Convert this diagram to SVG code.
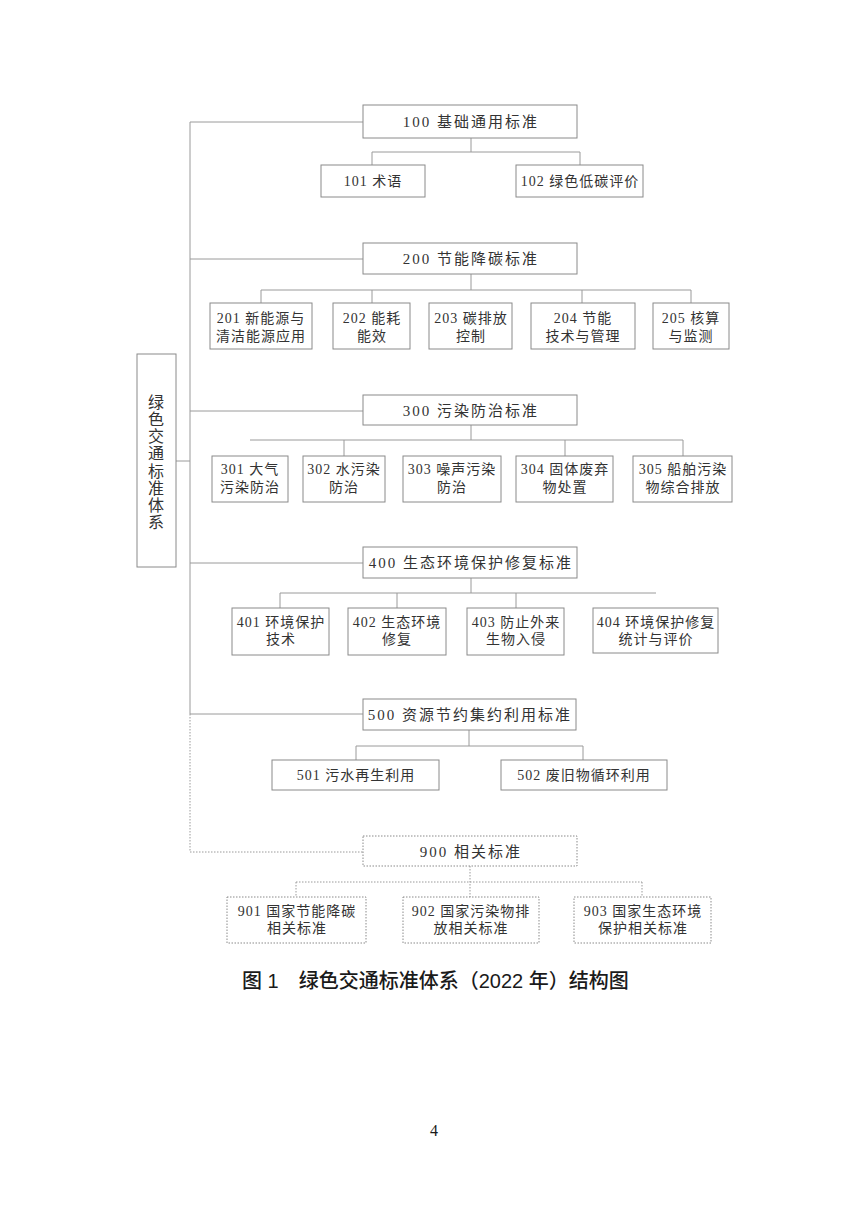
<svg xmlns="http://www.w3.org/2000/svg" width="868" height="1227" viewBox="0 0 868 1227">
<style>
.bg{fill:#ffffff}
.box{fill:#ffffff;stroke:#8a8a8a;stroke-width:1}
.dbox{fill:#ffffff;stroke:#8a8a8a;stroke-width:1;stroke-dasharray:1.5 1.5}
.ln{fill:none;stroke:#9a9a9a;stroke-width:1}
.dl{fill:none;stroke:#9a9a9a;stroke-width:1;stroke-dasharray:1.5 1.5}
.h{font-family:"Liberation Serif","Noto Sans CJK SC",serif;font-size:15px;letter-spacing:2px;fill:#333333;text-anchor:middle}
.c{font-family:"Liberation Serif","Noto Sans CJK SC",serif;font-size:14px;letter-spacing:1px;fill:#333333;text-anchor:middle}
.v{font-family:"Liberation Serif","Noto Sans CJK SC",serif;font-size:16px;fill:#333333;text-anchor:middle}
.cap{font-family:"Liberation Sans","Noto Sans CJK SC",sans-serif;font-size:20px;font-weight:500;fill:#1a1a1a}
.pg{font-family:"Liberation Serif",serif;font-size:16px;fill:#1a1a1a;text-anchor:middle}
</style>
<rect class="bg" x="0" y="0" width="868" height="1227"/>

<g id="connectors">
  <path class="ln" d="M190 122V714"/>
  <path class="dl" d="M190 714V852"/>
  <path class="ln" d="M176 461H190"/>
  <path class="ln" d="M190 122H363M190 259H363M190 411H363M190 563H363M190 714H363"/>
  <path class="dl" d="M190 852H363"/>
  <path class="ln" d="M471 138V152M372 152H580M372 152V165M580 152V165"/>
  <path class="ln" d="M471 274V290M261 290H691M261 290V303M372 290V303M582 290V303M691 290V303"/>
  <path class="ln" d="M471 425V440M250 440H683M344 440V456M565 440V456M683 440V456"/>
  <path class="ln" d="M471 578V593M280 593H656M280 593V608M397 593V608M516 593V608"/>
  <path class="ln" d="M469 730V746M356 746H583M356 746V760M583 746V760"/>
  <path class="dl" d="M470 866V897M296 882H642M296 882V897M642 882V897"/>
</g>

<g id="root">
  <rect class="box" x="137" y="354" width="39" height="213"/>
  <text class="v" x="156"><tspan x="156" y="408">绿</tspan><tspan x="156" y="425">色</tspan><tspan x="156" y="442">交</tspan><tspan x="156" y="459">通</tspan><tspan x="156" y="477">标</tspan><tspan x="156" y="494">准</tspan><tspan x="156" y="511">体</tspan><tspan x="156" y="528">系</tspan></text>
</g>

<g id="n100"><rect class="box" x="363" y="105" width="214" height="33"/><text class="h" x="471" y="127">100 基础通用标准</text></g>
<g id="n101"><rect class="box" x="321" y="165" width="104" height="32"/><text class="c" x="373" y="186">101 术语</text></g>
<g id="n102"><rect class="box" x="516" y="165" width="127" height="32"/><text class="c" x="580" y="186">102 绿色低碳评价</text></g>

<g id="n200"><rect class="box" x="363" y="243" width="214" height="31"/><text class="h" x="471" y="264">200 节能降碳标准</text></g>
<g id="n201"><rect class="box" x="210" y="303" width="102" height="46"/><text class="c" x="261" y="323">201 新能源与</text><text class="c" x="261" y="341">清洁能源应用</text></g>
<g id="n202"><rect class="box" x="333" y="303" width="77" height="46"/><text class="c" x="372" y="323">202 能耗</text><text class="c" x="372" y="341">能效</text></g>
<g id="n203"><rect class="box" x="429" y="303" width="83" height="46"/><text class="c" x="471" y="323">203 碳排放</text><text class="c" x="471" y="341">控制</text></g>
<g id="n204"><rect class="box" x="531" y="303" width="104" height="46"/><text class="c" x="583" y="323">204 节能</text><text class="c" x="583" y="341">技术与管理</text></g>
<g id="n205"><rect class="box" x="653" y="303" width="76" height="46"/><text class="c" x="691" y="323">205 核算</text><text class="c" x="691" y="341">与监测</text></g>

<g id="n300"><rect class="box" x="363" y="395" width="214" height="30"/><text class="h" x="471" y="415.5">300 污染防治标准</text></g>
<g id="n301"><rect class="box" x="212" y="456" width="76" height="46"/><text class="c" x="250" y="474">301 大气</text><text class="c" x="250" y="492">污染防治</text></g>
<g id="n302"><rect class="box" x="303" y="456" width="82" height="46"/><text class="c" x="344" y="474">302 水污染</text><text class="c" x="344" y="492">防治</text></g>
<g id="n303"><rect class="box" x="403" y="456" width="98" height="46"/><text class="c" x="452" y="474">303 噪声污染</text><text class="c" x="452" y="492">防治</text></g>
<g id="n304"><rect class="box" x="516" y="456" width="97" height="46"/><text class="c" x="565" y="474">304 固体废弃</text><text class="c" x="565" y="492">物处置</text></g>
<g id="n305"><rect class="box" x="633" y="456" width="99" height="46"/><text class="c" x="683" y="474">305 船舶污染</text><text class="c" x="683" y="492">物综合排放</text></g>

<g id="n400"><rect class="box" x="363" y="547" width="214" height="31"/><text class="h" x="471" y="568">400 生态环境保护修复标准</text></g>
<g id="n401"><rect class="box" x="232" y="608" width="97" height="47"/><text class="c" x="281" y="627">401 环境保护</text><text class="c" x="281" y="644">技术</text></g>
<g id="n402"><rect class="box" x="348" y="608" width="98" height="47"/><text class="c" x="397" y="627">402 生态环境</text><text class="c" x="397" y="644">修复</text></g>
<g id="n403"><rect class="box" x="467" y="608" width="97" height="47"/><text class="c" x="516" y="627">403 防止外来</text><text class="c" x="516" y="644">生物入侵</text></g>
<g id="n404"><rect class="box" x="593" y="608" width="125" height="45"/><text class="c" x="656" y="627">404 环境保护修复</text><text class="c" x="656" y="644">统计与评价</text></g>

<g id="n500"><rect class="box" x="363" y="699" width="213" height="31"/><text class="h" x="470" y="720">500 资源节约集约利用标准</text></g>
<g id="n501"><rect class="box" x="272" y="760" width="167" height="30"/><text class="c" x="356" y="780">501 污水再生利用</text></g>
<g id="n502"><rect class="box" x="501" y="760" width="166" height="30"/><text class="c" x="584" y="780">502 废旧物循环利用</text></g>

<g id="n900"><rect class="dbox" x="363" y="836" width="214" height="30"/><text class="h" x="471" y="857">900 相关标准</text></g>
<g id="n901"><rect class="dbox" x="227" y="897" width="139" height="46"/><text class="c" x="297" y="916">901 国家节能降碳</text><text class="c" x="297" y="933">相关标准</text></g>
<g id="n902"><rect class="dbox" x="403" y="897" width="136" height="46"/><text class="c" x="471" y="916">902 国家污染物排</text><text class="c" x="471" y="933">放相关标准</text></g>
<g id="n903"><rect class="dbox" x="574" y="897" width="137" height="46"/><text class="c" x="643" y="916">903 国家生态环境</text><text class="c" x="643" y="933">保护相关标准</text></g>

<text class="cap" x="242" y="988">图 1　绿色交通标准体系（2022 年）结构图</text>
<text class="pg" x="434" y="1136">4</text>
</svg>
